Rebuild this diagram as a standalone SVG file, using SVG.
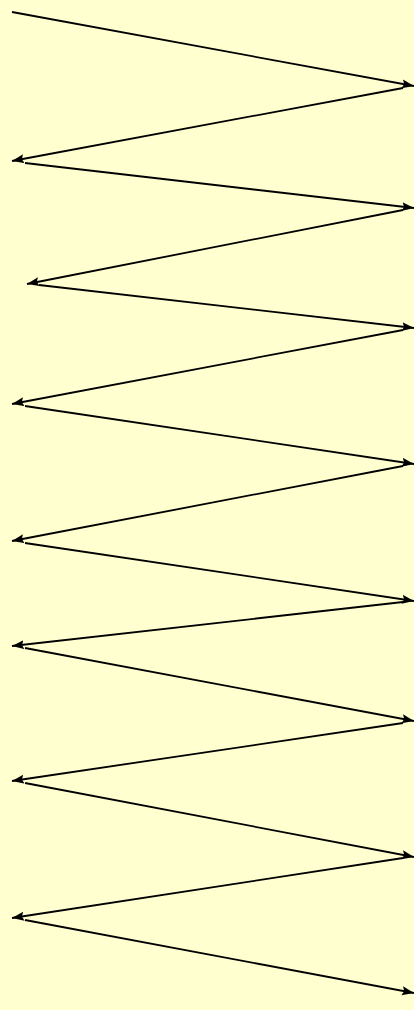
<svg xmlns="http://www.w3.org/2000/svg" width="414" height="1010" viewBox="0 0 414 1010">
<style>
.c{stroke:#000;stroke-width:1.8;fill:none;marker-end:url(#ah)}
</style>
<defs>
<marker id="ah" markerUnits="userSpaceOnUse" markerWidth="13" markerHeight="10" refX="12" refY="4.5" orient="auto">
<path d="M0,0 L12,4.5 L0,9 L2,4.5 z" fill="#000"/>
</marker>
</defs>
<rect width="414" height="1010" fill="#FFFFD0"/>
<g id="connectors">
<line class="c" x1="12" y1="12" x2="414" y2="86"/>
<line class="c" x1="403" y1="88" x2="12" y2="161"/>
<line class="c" x1="25" y1="163" x2="414" y2="208"/>
<line class="c" x1="403" y1="210" x2="27" y2="284"/>
<line class="c" x1="39" y1="285" x2="414" y2="328"/>
<line class="c" x1="403" y1="330" x2="12" y2="404"/>
<line class="c" x1="25" y1="406" x2="414" y2="464"/>
<line class="c" x1="403" y1="466" x2="12" y2="541"/>
<line class="c" x1="25" y1="543" x2="414" y2="601"/>
<line class="c" x1="403" y1="602" x2="12" y2="646"/>
<line class="c" x1="25" y1="648" x2="414" y2="721"/>
<line class="c" x1="403" y1="723" x2="12" y2="781"/>
<line class="c" x1="25" y1="783" x2="414" y2="857"/>
<line class="c" x1="403" y1="858" x2="12" y2="918"/>
<line class="c" x1="25" y1="920" x2="414" y2="993"/>
</g>
</svg>
